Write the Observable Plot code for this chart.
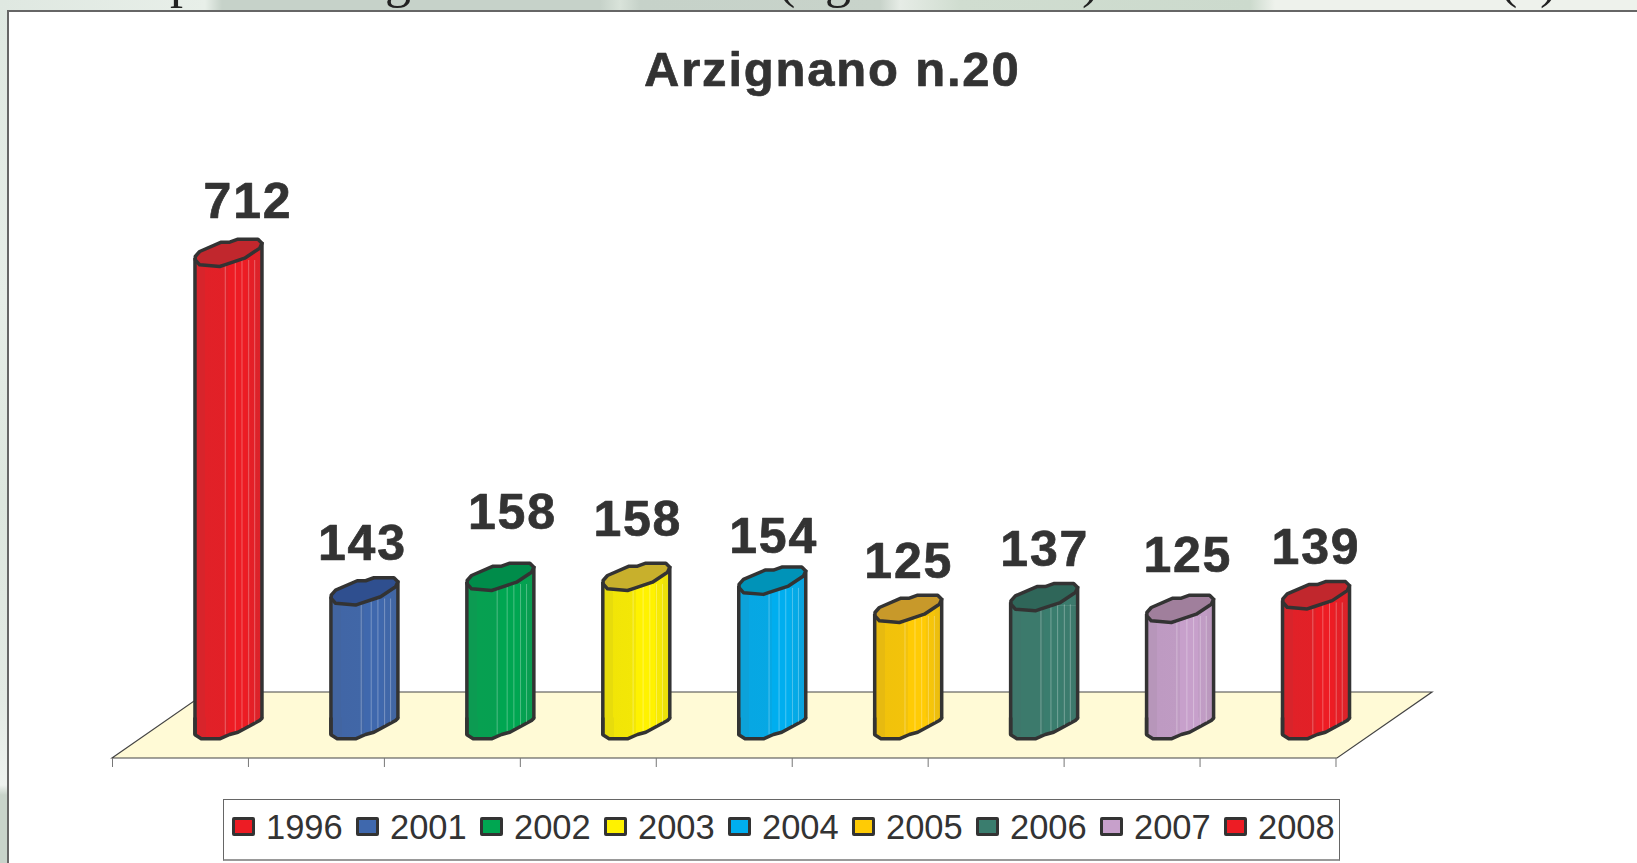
<!DOCTYPE html>
<html><head><meta charset="utf-8">
<script src="https://cdn.jsdelivr.net/npm/d3@7"></script>
<script src="https://cdn.jsdelivr.net/npm/@observablehq/plot@0.6"></script>
<style>
html,body{margin:0;padding:0;width:1637px;height:863px;overflow:hidden;background:#fff}
#strip-top{position:absolute;left:0;top:0;width:1637px;height:11px;overflow:hidden;
 background:linear-gradient(90deg,#dfe8e1 0,#e8efe9 205px,#c6d2c9 222px,#c6d2c9 600px,#d9e3da 620px,#c6d2c9 640px,#c8d3ca 880px,#e6ece6 900px,#d0ddd0 960px,#ccdacd 1250px,#eef2ec 1275px,#eef2ec 1637px)}
#strip-left{position:absolute;left:0;top:0;width:7px;height:863px;
 background:linear-gradient(180deg,#dfe8e1 0,#e6ede7 300px,#dde6de 500px,#e3eae4 700px,#eef2ef 785px,#c8d3ca 795px,#c8d3ca 863px)}
.frag{position:absolute;top:-46px;font:52px/52px "Liberation Serif",serif;color:#222}
#panel{position:absolute;left:7px;top:10px;right:0;bottom:0;background:#fff;border-left:2px solid #666;border-top:2px solid #666}
#chart{position:absolute;left:0;top:0}
#legend{position:absolute;left:223px;top:799px;width:1117px;height:62px;box-sizing:border-box;border:1px solid #666;border-bottom:2px solid #999;display:flex;align-items:center;padding:0 0 6px 8px;font:34.5px/34px "Liberation Sans",Arial,sans-serif;color:#333;background:#fff}
#legend .item{display:flex;align-items:center;width:124px;flex:none}
#legend .sw{width:17px;height:13px;border:3.5px solid #333;border-radius:2px;margin-right:11px;flex:none}
.chart3d text{letter-spacing:1.8px}
</style></head><body>
<div id="strip-top"></div><div id="strip-left"></div><div id="panel"></div>
<div id="chart"></div><div id="legend"></div>
<script>
const title = "Arzignano n.20";
const years = ["1996","2001","2002","2003","2004","2005","2006","2007","2008"];
const values = [712,143,158,158,154,125,137,125,139];
const colors = ["#ed1c24","#3f68ad","#00a651","#fff200","#00aeef","#ffcb05","#3a7d6e","#c7a0cb","#ed1c24"];
const capColors = ["#c1272d","#2f4f8f","#008c4a","#c8b02c","#0093b8","#c8992a","#2f6659","#a07f9c","#c1272d"];
// styling / layout (not data)
const labelDx = [19.5,-2,12,1.5,1.4,0.5,0.6,7.7,0];
const labelDy = [-47,-43,-60,-53,-39,-43,-43,-49,-43];
const fragments = [["p",170],["g",385],["(",778],["g",825],[")",1082],["(",1500],[")",1540]];
const step = 135.94, barDx = 48, ink = "#333";
const slats = [[-3.2,4],[6.8,7],[13.5,10],[20.2,13],[26.2,16]];

const strip = document.getElementById("strip-top");
for (const [c,x] of fragments){const s=document.createElement("span");s.className="frag";s.textContent=c;s.style.left=x+"px";strip.appendChild(s);}

const data = years.map((year,i)=>({year,value:values[i],i}));

const capSym = {draw(c){const p=[[-33.2,-6.7],[-28.8,-1.7],[-8.8,0],[-3.8,-1.7],[16.2,-8.3],[31.2,-18.3],[33.5,-23.3],[29.5,-27.3],[9.5,-27.3],[1.2,-24.3],[-7.2,-24.3],[-28.8,-15],[-33.2,-10]];
  p.forEach(([x,y],k)=>k?c.lineTo(x,y):c.moveTo(x,y));c.closePath();}};
const shoulderSym = {draw(c){c.moveTo(-33.5,-5);c.lineTo(33.5,-24);c.lineTo(33.5,-5);c.closePath();}};
const baseSym = {draw(c){const p=[[-33.5,-21],[-33.5,-3.7],[-27.2,0.3],[-8.8,0.3],[1.2,-4],[9.5,-6.3],[31.2,-18],[33.5,-20.3],[33.5,-21]];
  p.forEach(([x,y],k)=>k?c.lineTo(x,y):c.moveTo(x,y));}};

const grad = ()=>{
  const defs=d3.create("svg:defs");
  colors.forEach((col,i)=>{
    const g=defs.append("linearGradient").attr("id","body"+i).attr("x1",0).attr("x2",1).attr("y1",0).attr("y2",0);
    const mix=t=>d3.interpolateRgb(col,"#555")(t);
    [[0,.14],[.16,.14],[.16,.08],[.5,.07],[.5,0],[.78,0],[.78,.05],[.9,.06],[.9,.1],[1,.12]].forEach(([o,t])=>g.append("stop").attr("offset",o).attr("stop-color",mix(t)));
  });
  return defs.node();
};
const floor = (index,scales,values,dim)=>{
  const l=dim.marginLeft, r=dim.width-dim.marginRight+1.5, b=dim.height-dim.marginBottom, dx=95, dy=66;
  return d3.create("svg:path").attr("d",`M${l},${b}L${l+dx},${b-dy}L${r+dx},${b-dy}L${r},${b}Z`)
    .attr("fill","#fffad6").attr("stroke","#444").attr("stroke-width",1.2).node();
};
const bodyFill = {value:d=>`url(#body${d.i})`,scale:null};
const common = {x:"year",dx:barDx};
const edge = {stroke:ink,strokeWidth:3.5};

const plot = Plot.plot({
  className:"chart3d",
  width:1637,height:863,marginTop:0,marginLeft:112,marginRight:301.5,marginBottom:105,
  style:{background:"transparent",overflow:"visible"},
  x:{type:"band",domain:years,round:false,paddingInner:1-67/step,paddingOuter:(1-67/step)/2,label:null,axis:null},
  y:{type:"linear",domain:[0,125,158,712],range:[738,622,590,266],axis:null},
  marks:[
    grad,
    floor,
    Plot.axisX({dx:-step/2,tickSize:9,tickFormat:null,label:null,stroke:"#777"}),
    Plot.axisX([years[8]],{dx:step/2,tickSize:9,tickFormat:null,label:null,stroke:"#777"}),
    Plot.barY(data,{...common,y1:0,y2:"value",fill:bodyFill,insetTop:-5,insetBottom:20}),
    Plot.dot(data,{...common,y:"value",symbol:shoulderSym,fill:bodyFill}),
    Plot.dot(data,{...common,y:()=>0,symbol:baseSym,fill:bodyFill,stroke:ink,strokeWidth:3.5,strokeLinejoin:"round"}),
    ...slats.map(([o,ins])=>Plot.ruleX(data,{x:"year",y1:"value",y2:0,dx:barDx+o,insetBottom:ins,insetTop:-6,stroke:"#fff",strokeOpacity:.3,strokeWidth:1})),
    Plot.ruleX(data,{x:"year",y1:"value",y2:0,dx:barDx-33.5,insetTop:-8,insetBottom:3.5,...edge}),
    Plot.ruleX(data,{x:"year",y1:"value",y2:0,dx:barDx+33.5,insetTop:-24,insetBottom:20,...edge}),
    Plot.dot(data,{...common,y:"value",symbol:capSym,fill:{value:d=>capColors[d.i],scale:null},stroke:ink,strokeWidth:3.5,strokeLinejoin:"round"}),
    ...data.map(d=>Plot.text([d],{x:"year",y:"value",text:d=>String(d.value),dx:barDx+labelDx[d.i],dy:labelDy[d.i]-2,lineAnchor:"bottom",
      fontFamily:"Liberation Sans",fontWeight:"bold",fontSize:50,fill:ink,stroke:ink,strokeWidth:.7})),
    Plot.text([title],{text:d=>d,frameAnchor:"top",dx:108,dy:85,lineAnchor:"bottom",fontFamily:"Liberation Sans",fontWeight:"bold",fontSize:49,fill:ink,stroke:ink,strokeWidth:.7})
  ]
});
document.getElementById("chart").appendChild(plot);

const legend=document.getElementById("legend");
years.forEach((y,i)=>{
  const it=document.createElement("div");it.className="item";
  const s=document.createElement("div");s.className="sw";s.style.background=colors[i];
  const t=document.createElement("span");t.textContent=y;
  it.append(s,t);legend.appendChild(it);
});
</script></body></html>
